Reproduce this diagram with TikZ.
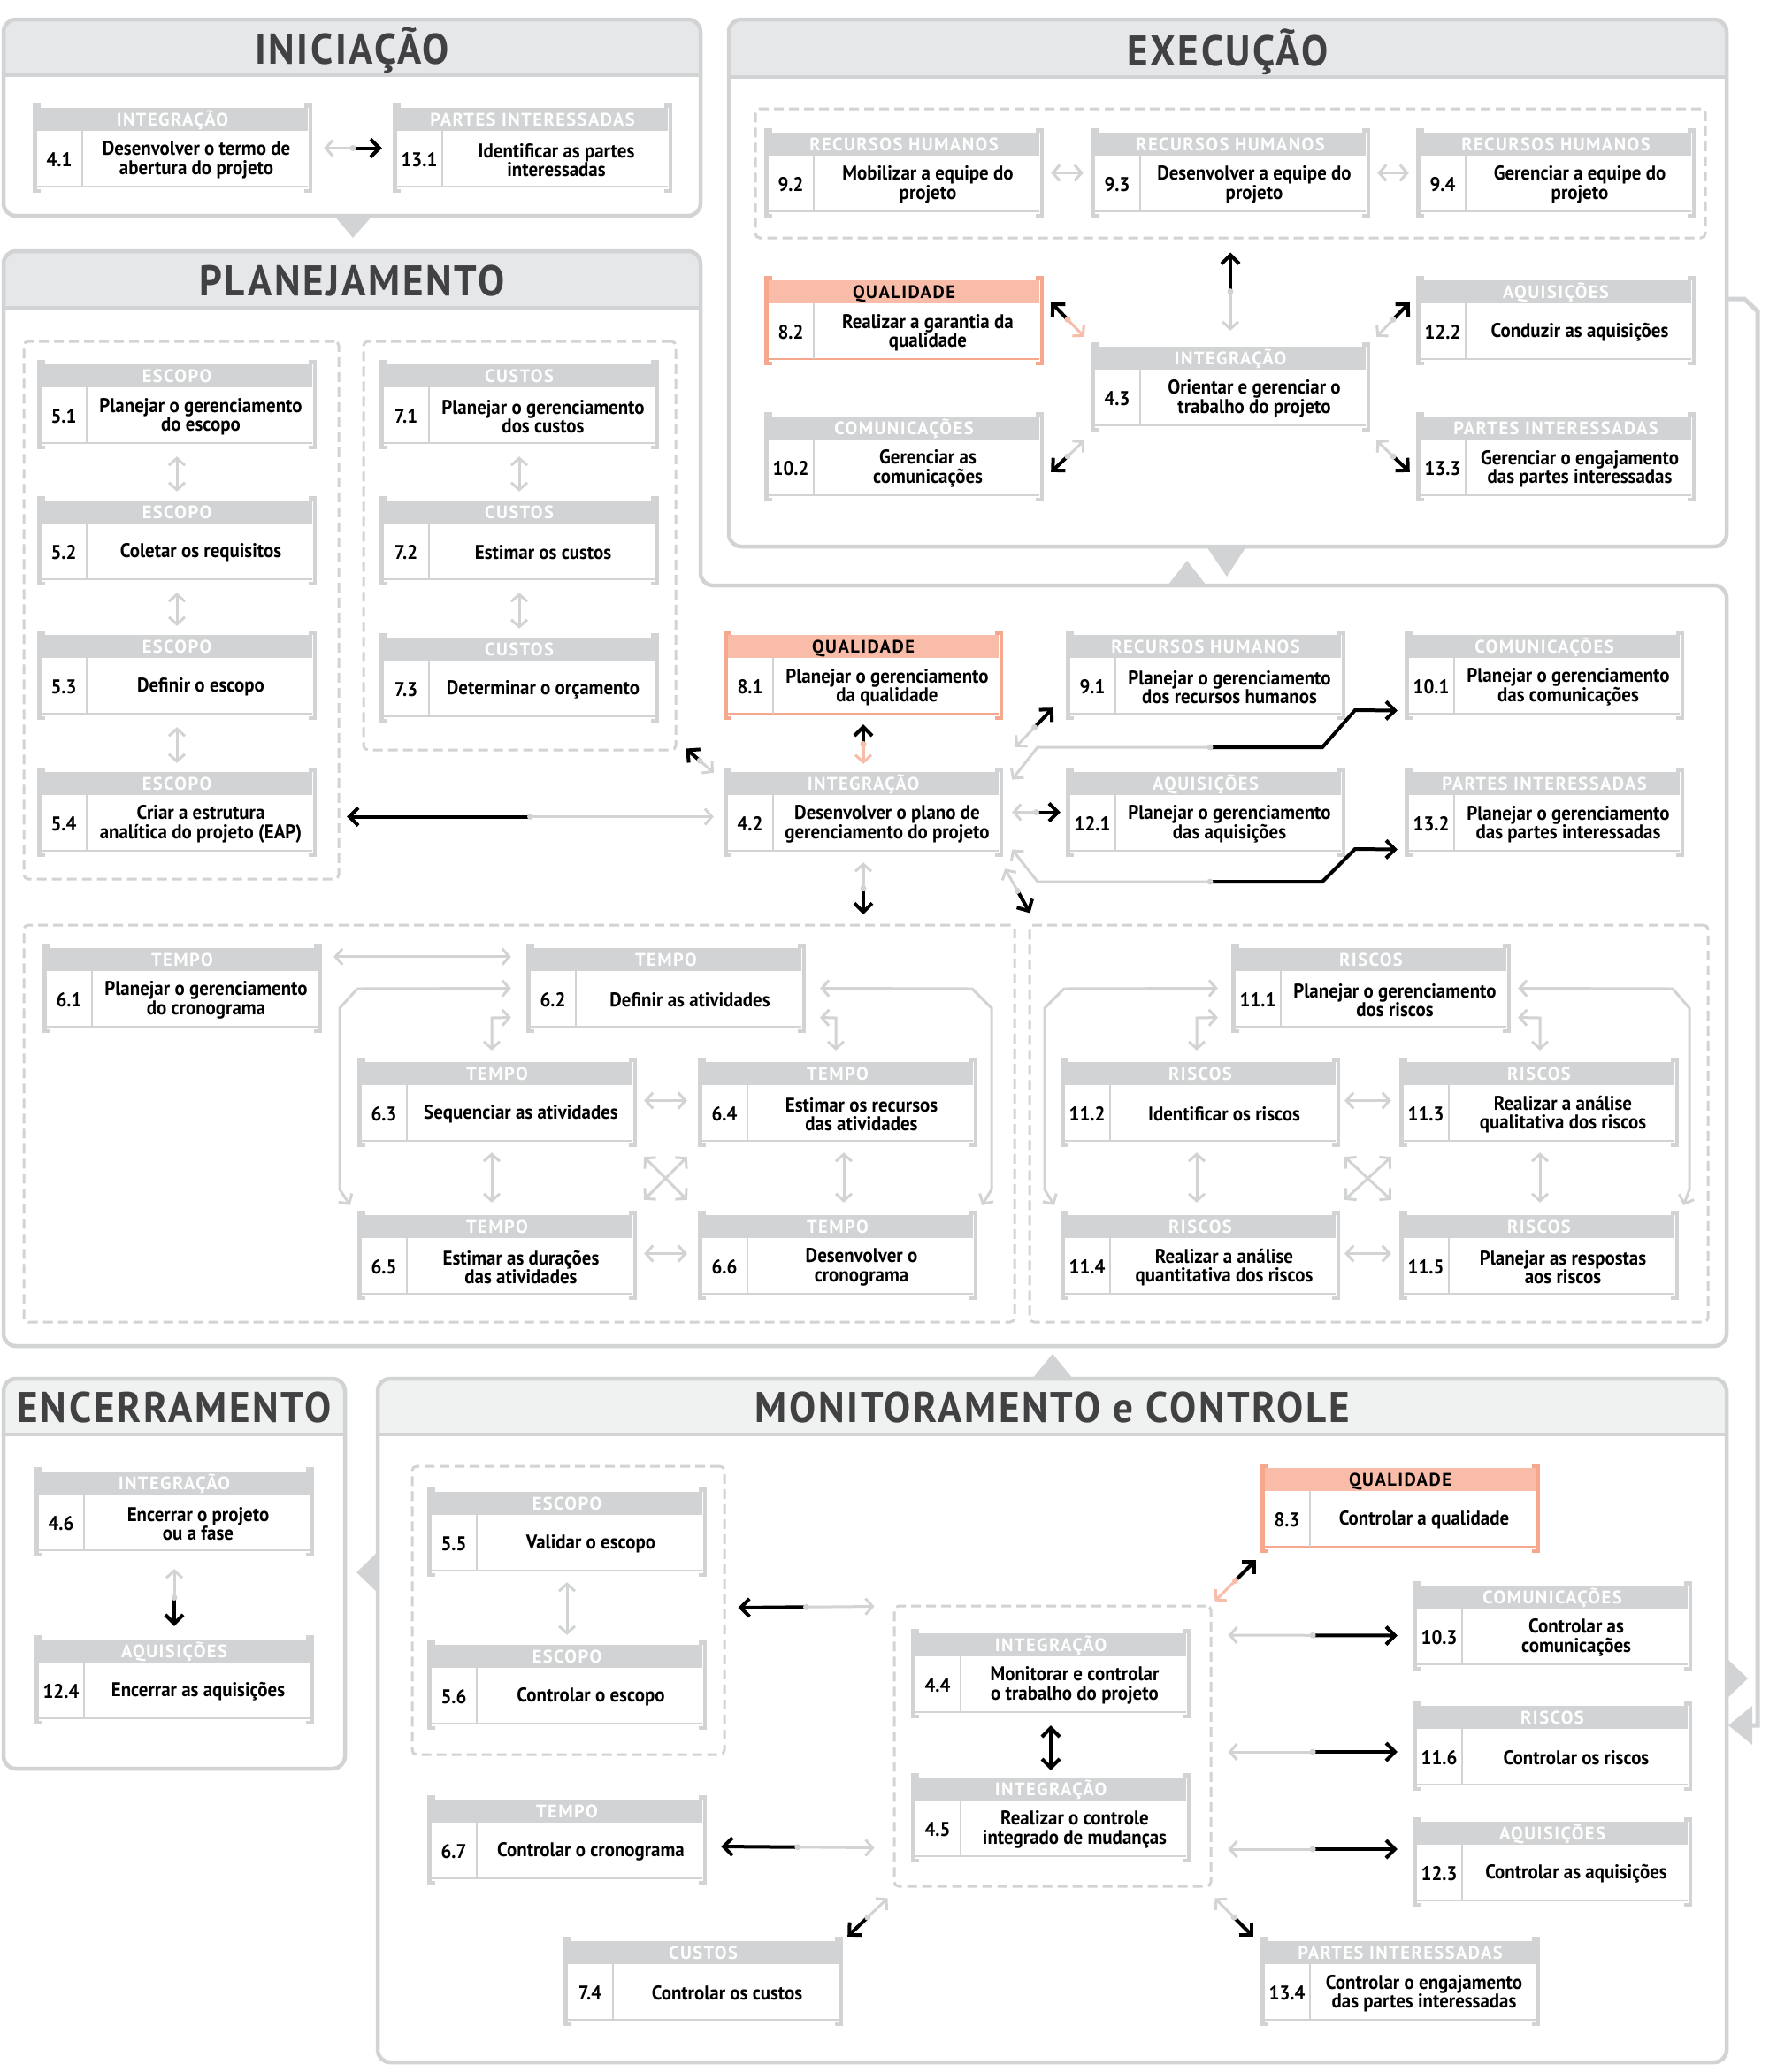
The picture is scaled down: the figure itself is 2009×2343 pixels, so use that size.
\documentclass[tikz,border=0pt]{standalone}
\usepackage{fontspec}
\setmainfont{PT Sans}
\newfontfamily\bodyf{PT Sans}[FakeStretch=0.93]
\newfontfamily\catf{PT Sans}[LetterSpace=7]
\newfontfamily\titlef{PT Sans}[FakeStretch=0.93,LetterSpace=5.5]
\usetikzlibrary{arrows.meta,calc}
\definecolor{lg}{HTML}{D1D3D4}
\definecolor{phd}{HTML}{E6E7E8}
\definecolor{phdb}{HTML}{F0F1F1}
\definecolor{sal}{HTML}{F9BCA8}
\definecolor{salb}{HTML}{F6A88F}
\definecolor{ttlc}{HTML}{414042}
\tikzset{
  LB/.tip={Straight Barb[length=8pt,width=18pt]},
  BB/.tip={Straight Barb[length=10pt,width=20pt]},
  boxn/.style={inner sep=0pt, minimum width=316pt, minimum height=101pt},
  cattext/.style={font=\catf\bfseries\fontsize{20.5}{20.5}\selectfont, inner sep=0pt, anchor=base},
  numtext/.style={font=\bodyf\bfseries\fontsize{22.5}{22}\selectfont, inner sep=0pt, anchor=base},
  bodytext/.style={font=\bodyf\bfseries\fontsize{22.5}{21.5}\selectfont, align=center, inner sep=0pt},
  ttl/.style={font=\titlef\bfseries\fontsize{48.5}{48.5}\selectfont, text=ttlc, anchor=base, inner sep=0pt},
  panel/.style={draw=lg, line width=4.5pt, rounded corners=14pt},
  grp/.style={draw=lg, line width=3pt, dash pattern=on 11pt off 6pt, rounded corners=5pt, inner sep=0pt},
  lt/.style={draw=lg, line width=3pt},
  bk/.style={draw=black, line width=4pt},
  ltd/.style={lt, LB-LB},
  bkd/.style={bk, BB-BB},
}
% #1 name #2 x #3 y #4 bracket colour #5 header fill #6 header text colour #7 category #8 number #9 text
\newcommand\procbox[9]{%
  \node[boxn] (#1) at (#2+158,#3+50.5) {};
  \begin{scope}[shift={(#2,#3)}]
    \fill[#5] (5,5) rectangle (311,31);
    \draw[#4, line width=2.5pt] (5,94) -- (311,94);
    \draw[lg, line width=2pt] (56,31) -- (56,94);
    \draw[#4, line width=4.5pt] (9,2.25) -- (2.25,2.25) -- (2.25,98.75) -- (9,98.75);
    \draw[#4, line width=4.5pt] (307,2.25) -- (313.75,2.25) -- (313.75,98.75) -- (307,98.75);
    \node[cattext, text=#6] (#1-cat) at (158,25.5) {#7};
    \node[numtext] (#1-num) at (30,71) {#8};
    \node[bodytext] (#1-txt) at (185,64) {#9};
  \end{scope}}
\newcommand\gbox[6]{\procbox{#1}{#2}{#3}{lg}{lg}{white}{#4}{#5}{#6}}
\newcommand\qbox[6]{\procbox{#1}{#2}{#3}{salb}{sal}{black}{#4}{#5}{#6}}
\newcommand\mixarr[3][lg]{%
  \path (#2) -- coordinate (mxm) (#3);
  \draw[lt, draw=#1, LB-] (#2) -- (mxm);
  \draw[bk, -BB] (mxm) -- (#3);
  \fill[#1] (mxm) circle (3.5pt);}
\begin{document}
\begin{tikzpicture}[x=1pt,y=-1pt]
\useasboundingbox (0,0) rectangle (2009,2343);
\fill[white] (0,0) rectangle (2009,2343);
% ---------- panel header fills
\begin{scope}\clip (4,22) rectangle (792,85); \fill[phd, rounded corners=14pt] (4,22) rectangle (792,140);\end{scope}
\begin{scope}\clip (824,22) rectangle (1952,87); \fill[phd, rounded corners=14pt] (824,22) rectangle (1952,140);\end{scope}
\begin{scope}\clip (4,284) rectangle (792,348); \fill[phd, rounded corners=14pt] (4,284) rectangle (792,400);\end{scope}
\begin{scope}\clip (4,1559) rectangle (390,1622); \fill[phdb, rounded corners=14pt] (4,1559) rectangle (390,1700);\end{scope}
\begin{scope}\clip (427,1559) rectangle (1952,1622); \fill[phdb, rounded corners=14pt] (427,1559) rectangle (1952,1700);\end{scope}
% ---------- panel outlines
\draw[panel] (4,22) rectangle (792,244);
\draw[lg, line width=4pt] (4,85) -- (792,85);
\draw[panel] (824,22) rectangle (1952,618);
\draw[lg, line width=4pt] (824,87) -- (1952,87);
\draw[panel] (4,900) -- (4,284) -- (792,284) -- (792,662) -- (1952,662) -- (1952,1522) -- (4,1522) -- cycle;
\draw[lg, line width=4pt] (4,348) -- (792,348);
\draw[panel] (4,1559) rectangle (390,2000);
\draw[lg, line width=4pt] (4,1622) -- (390,1622);
\draw[panel] (427,1559) rectangle (1952,2332);
\draw[lg, line width=4pt] (427,1622) -- (1952,1622);
% pointers between panels
\fill[lg] (378,244) -- (421,244) -- (399,269) -- cycle;
\fill[lg] (1364,618) -- (1409,618) -- (1387,652) -- cycle;
\fill[lg] (1320,662) -- (1364,662) -- (1342,634) -- cycle;
\fill[lg] (1167,1559) -- (1213,1559) -- (1190,1531) -- cycle;
\fill[lg] (427,1755) -- (427,1801) -- (403,1778) -- cycle;
\fill[lg] (1952,1875) -- (1952,1921) -- (1976,1898) -- cycle;
\coordinate (exR) at (1952,338);
\coordinate (mcR) at (1954,1951);
\draw[lg, line width=5pt] (exR) -- (1972,338) -- (1987,352) -- (1987,1951) -- (1978,1951);
\fill[lg] (1981,1929) -- (1981,1973) -- (mcR) -- cycle;
% ---------- titles
\node[ttl] (tIni) at (398,72) {INICIAÇÃO};
\node[ttl] (tExe) at (1388,74) {EXECUÇÃO};
\node[ttl] (tPla) at (398,334) {PLANEJAMENTO};
\node[ttl] (tEnc) at (197,1608) {ENCERRAMENTO};
\node[ttl] (tMon) at (1190,1608) {MONITORAMENTO e CONTROLE};
% ---------- dashed groups
\node[grp, minimum width=1074pt, minimum height=146pt] (grh) at (1391,196) {};
\node[grp, minimum width=356pt, minimum height=608pt] (gesc) at (205,690) {};
\node[grp, minimum width=353pt, minimum height=462pt] (gcus) at (587.5,617) {};
\node[grp, minimum width=1120pt, minimum height=449pt] (gtem) at (587,1270.5) {};
\node[grp, minimum width=767pt, minimum height=449pt] (gris) at (1547.5,1270.5) {};
\node[grp, minimum width=353pt, minimum height=326pt] (gmesc) at (642.5,1821) {};
\node[grp, minimum width=358pt, minimum height=317pt] (gmint) at (1190,1974.5) {};
% ---------- boxes
\gbox{b41}{37}{117}{INTEGRAÇÃO}{4.1}{Desenvolver o termo de\\abertura do projeto}
\gbox{b131}{444}{117}{PARTES INTERESSADAS}{13.1}{Identificar as partes\\interessadas}
\gbox{b92}{864}{145}{RECURSOS HUMANOS}{9.2}{Mobilizar a equipe do\\projeto}
\gbox{b93}{1233}{145}{RECURSOS HUMANOS}{9.3}{Desenvolver a equipe do\\projeto}
\gbox{b94}{1601}{145}{RECURSOS HUMANOS}{9.4}{Gerenciar a equipe do\\projeto}
\qbox{b82}{864}{312}{QUALIDADE}{8.2}{Realizar a garantia da\\qualidade}
\gbox{b102}{864}{466}{COMUNICAÇÕES}{10.2}{Gerenciar as\\comunicações}
\gbox{b43}{1233}{387}{INTEGRAÇÃO}{4.3}{Orientar e gerenciar o\\trabalho do projeto}
\gbox{b122}{1601}{312}{AQUISIÇÕES}{12.2}{Conduzir as aquisições}
\gbox{b133}{1601}{466}{PARTES INTERESSADAS}{13.3}{Gerenciar o engajamento\\das partes interessadas}
\gbox{b51}{42}{407}{ESCOPO}{5.1}{Planejar o gerenciamento\\do escopo}
\gbox{b52}{42}{561}{ESCOPO}{5.2}{Coletar os requisitos}
\gbox{b53}{42}{713}{ESCOPO}{5.3}{Definir o escopo}
\gbox{b54}{42}{868}{ESCOPO}{5.4}{Criar a estrutura\\analítica do projeto (EAP)}
\gbox{b71}{429}{407}{CUSTOS}{7.1}{Planejar o gerenciamento\\dos custos}
\gbox{b72}{429}{561}{CUSTOS}{7.2}{Estimar os custos}
\gbox{b73}{429}{716}{CUSTOS}{7.3}{Determinar o orçamento}
\qbox{b81}{818}{713}{QUALIDADE}{8.1}{Planejar o gerenciamento\\da qualidade}
\gbox{b42}{818}{868}{INTEGRAÇÃO}{4.2}{Desenvolver o plano de\\gerenciamento do projeto}
\gbox{b91}{1205}{713}{RECURSOS HUMANOS}{9.1}{Planejar o gerenciamento\\dos recursos humanos}
\gbox{b101}{1588}{713}{COMUNICAÇÕES}{10.1}{Planejar o gerenciamento\\das comunicações}
\gbox{b121}{1205}{868}{AQUISIÇÕES}{12.1}{Planejar o gerenciamento\\das aquisições}
\gbox{b132}{1588}{868}{PARTES INTERESSADAS}{13.2}{Planejar o gerenciamento\\das partes interessadas}
\gbox{b61}{48}{1067}{TEMPO}{6.1}{Planejar o gerenciamento\\do cronograma}
\gbox{b62}{595}{1067}{TEMPO}{6.2}{Definir as atividades}
\gbox{b63}{404}{1196}{TEMPO}{6.3}{Sequenciar as atividades}
\gbox{b64}{789}{1196}{TEMPO}{6.4}{Estimar os recursos\\das atividades}
\gbox{b65}{404}{1369}{TEMPO}{6.5}{Estimar as durações\\das atividades}
\gbox{b66}{789}{1369}{TEMPO}{6.6}{Desenvolver o\\cronograma}
\gbox{b111}{1392}{1067}{RISCOS}{11.1}{Planejar o gerenciamento\\dos riscos}
\gbox{b112}{1199}{1196}{RISCOS}{11.2}{Identificar os riscos}
\gbox{b113}{1582}{1196}{RISCOS}{11.3}{Realizar a análise\\qualitativa dos riscos}
\gbox{b114}{1199}{1369}{RISCOS}{11.4}{Realizar a análise\\quantitativa dos riscos}
\gbox{b115}{1582}{1369}{RISCOS}{11.5}{Planejar as respostas\\aos riscos}
\gbox{b46}{39}{1659}{INTEGRAÇÃO}{4.6}{Encerrar o projeto\\ou a fase}
\gbox{b124}{39}{1849}{AQUISIÇÕES}{12.4}{Encerrar as aquisições}
\gbox{b55}{483}{1682}{ESCOPO}{5.5}{Validar o escopo}
\gbox{b56}{483}{1855}{ESCOPO}{5.6}{Controlar o escopo}
\gbox{b67}{483}{2030}{TEMPO}{6.7}{Controlar o cronograma}
\gbox{b74}{637}{2190}{CUSTOS}{7.4}{Controlar os custos}
\gbox{b44}{1030}{1842}{INTEGRAÇÃO}{4.4}{Monitorar e controlar\\o trabalho do projeto}
\gbox{b45}{1030}{2005}{INTEGRAÇÃO}{4.5}{Realizar o controle\\integrado de mudanças}
\qbox{b83}{1425}{1655}{QUALIDADE}{8.3}{Controlar a qualidade}
\gbox{b103}{1597}{1788}{COMUNICAÇÕES}{10.3}{Controlar as\\comunicações}
\gbox{b116}{1597}{1924}{RISCOS}{11.6}{Controlar os riscos}
\gbox{b123}{1597}{2055}{AQUISIÇÕES}{12.3}{Controlar as aquisições}
\gbox{b134}{1425}{2190}{PARTES INTERESSADAS}{13.4}{Controlar o engajamento\\das partes interessadas}
% ---------- connectors: Iniciação
\mixarr{$(b41.east)+(13,0)$}{$(b131.west)+(-12,0)$}
% Execução
\draw[ltd] ($(b92.east)+(8,0)$) -- ($(b93.west)+(-8,0)$);
\draw[ltd] ($(b93.east)+(8,0)$) -- ($(b94.west)+(-8,0)$);
\mixarr{$(b43.north)+(0,-13)$}{$(grh.south)+(0,15)$}
\mixarr[sal]{$(b43.north west)+(-7,-6)$}{$(b82.north east)+(8,30)$}
\mixarr{$(b43.south west)+(-7,10)$}{$(b102.north east)+(8,68)$}
\mixarr{$(b43.north east)+(7,-6)$}{$(b122.north west)+(-7,30)$}
\mixarr{$(b43.south east)+(7,10)$}{$(b133.north west)+(-7,68)$}
% Planejamento
\draw[ltd] ($(b51.south)+(0,8)$) -- ($(b52.north)+(0,-5)$);
\draw[ltd] ($(b52.south)+(0,8)$) -- ($(b53.north)+(0,-5)$);
\draw[ltd] ($(b53.south)+(0,8)$) -- ($(b54.north)+(0,-5)$);
\draw[ltd] ($(b71.south)+(0,8)$) -- ($(b72.north)+(0,-5)$);
\draw[ltd] ($(b72.south)+(0,8)$) -- ($(b73.north)+(0,-5)$);
\mixarr{$(b42.west)+(-11,5)$}{$(b54.east)+(34,5)$}
\mixarr{$(b42.north west)+(-11,6)$}{$(gcus.south east)+(10,-3)$}
\mixarr[sal]{$(b42.north)+(0,-4)$}{$(b81.south)+(0,5)$}
\mixarr{$(b42.north east)+(14,-23)$}{$(b91.south west)+(-14,-14)$}
\mixarr{$(b42.east)+(10,0)$}{$(b121.west)+(-6,0)$}
\mixarr{$(b42.south)+(0,6)$}{$(b42.south)+(0,65)$}
\mixarr{$(b42.south east)+(2,13)$}{$(gris.north west)+(2,-12)$}
\draw[lt, LB-] ($(b42.east)+(10,-37)$) -- (1173,845) -- (1368,845);
\draw[bk, -BB] (1368,845) -- (1495,845) -- (1532,803) -- ($(b101.west)+(-8,40)$);
\fill[lg] (1368,845) circle (3.5pt);
\draw[lt, LB-] ($(b42.east)+(10,42)$) -- (1173,997) -- (1368,997);
\draw[bk, -BB] (1368,997) -- (1495,997) -- (1532,960) -- ($(b132.west)+(-8,42)$);
\fill[lg] (1368,997) circle (3.5pt);
% Tempo
\draw[ltd] ($(b61.north east)+(13,15)$) -- ($(b62.north west)+(-17,15)$);
\draw[ltd] ($(b62.west)+(-17,0)$) -- (404,1118) -- (384,1140) -- (384,1345) -- ($(b65.north west)+(-8,-6)$);
\draw[ltd] ($(b62.east)+(16,0)$) -- (1099,1118) -- (1121,1140) -- (1121,1345) -- ($(b66.north east)+(5,-6)$);
\draw[ltd] ($(b62.west)+(-17,33)$) -- (556,1151) -- ($(b63.north)+(-6,-8)$);
\draw[ltd] ($(b62.east)+(16,33)$) -- (945,1151) -- ($(b64.north)+(-2,-8)$);
\draw[ltd] ($(b63.east)+(8,-2)$) -- ($(b64.west)+(-12,-2)$);
\draw[ltd] ($(b65.east)+(8,-2)$) -- ($(b66.west)+(-12,-2)$);
\draw[ltd] ($(b63.south)+(-6,6)$) -- ($(b65.north)+(-6,-9)$);
\draw[ltd] ($(b64.south)+(7,6)$) -- ($(b66.north)+(7,-9)$);
\draw[ltd] ($(b63.south east)+(8,11)$) -- ($(b66.north west)+(-12,-12)$);
\draw[ltd] ($(b64.south west)+(-12,11)$) -- ($(b65.north east)+(8,-12)$);
% Riscos
\draw[ltd] ($(b111.west)+(-15,0)$) -- (1203,1118) -- (1181,1140) -- (1181,1345) -- ($(b114.north west)+(-7,-6)$);
\draw[ltd] ($(b111.east)+(8,0)$) -- (1891,1118) -- (1910,1140) -- (1910,1345) -- ($(b115.north east)+(5,-6)$);
\draw[ltd] ($(b111.west)+(-15,33)$) -- (1353,1151) -- ($(b112.north)+(-4,-8)$);
\draw[ltd] ($(b111.east)+(8,33)$) -- (1741,1151) -- ($(b113.north)+(1,-8)$);
\draw[ltd] ($(b112.east)+(5,-2)$) -- ($(b113.west)+(-9,-2)$);
\draw[ltd] ($(b114.east)+(5,-2)$) -- ($(b115.west)+(-9,-2)$);
\draw[ltd] ($(b112.south)+(-4,6)$) -- ($(b114.north)+(-4,-9)$);
\draw[ltd] ($(b113.south)+(1,6)$) -- ($(b115.north)+(1,-9)$);
\draw[ltd] ($(b112.south east)+(5,11)$) -- ($(b115.north west)+(-9,-12)$);
\draw[ltd] ($(b113.south west)+(-9,11)$) -- ($(b114.north east)+(5,-12)$);
% Encerramento
\mixarr{$(b46.south)+(0,14)$}{$(b124.north)+(0,-10)$}
% Monitoramento e controle
\draw[ltd] ($(b55.south)+(0,6)$) -- ($(b56.north)+(0,-6)$);
\mixarr{$(gmint.north west)+(-21,2)$}{$(gmesc.east)+(14,-3)$}
\mixarr{$(gmint.south west)+(-21,-45)$}{$(b67.east)+(16,7.5)$}
\mixarr{$(gmint.south west)+(-6,12)$}{$(b74.north east)+(5,0)$}
\draw[bkd] ($(b44.south)+(0,8)$) -- ($(b45.north)+(0,-3)$);
\mixarr[sal]{$(gmint.north east)+(3,-4)$}{$(b83.south west)+(-5,8)$}
\mixarr{$(gmint.east)+(18,-125.5)$}{$(b103.west)+(-17,11)$}
\mixarr{$(gmint.east)+(18,6.5)$}{$(b116.west)+(-17,6.5)$}
\mixarr{$(gmint.east)+(18,116.5)$}{$(b123.west)+(-17,-14.5)$}
\mixarr{$(gmint.south east)+(3,12)$}{$(b134.north west)+(-8,0)$}
\end{tikzpicture}
\end{document}
